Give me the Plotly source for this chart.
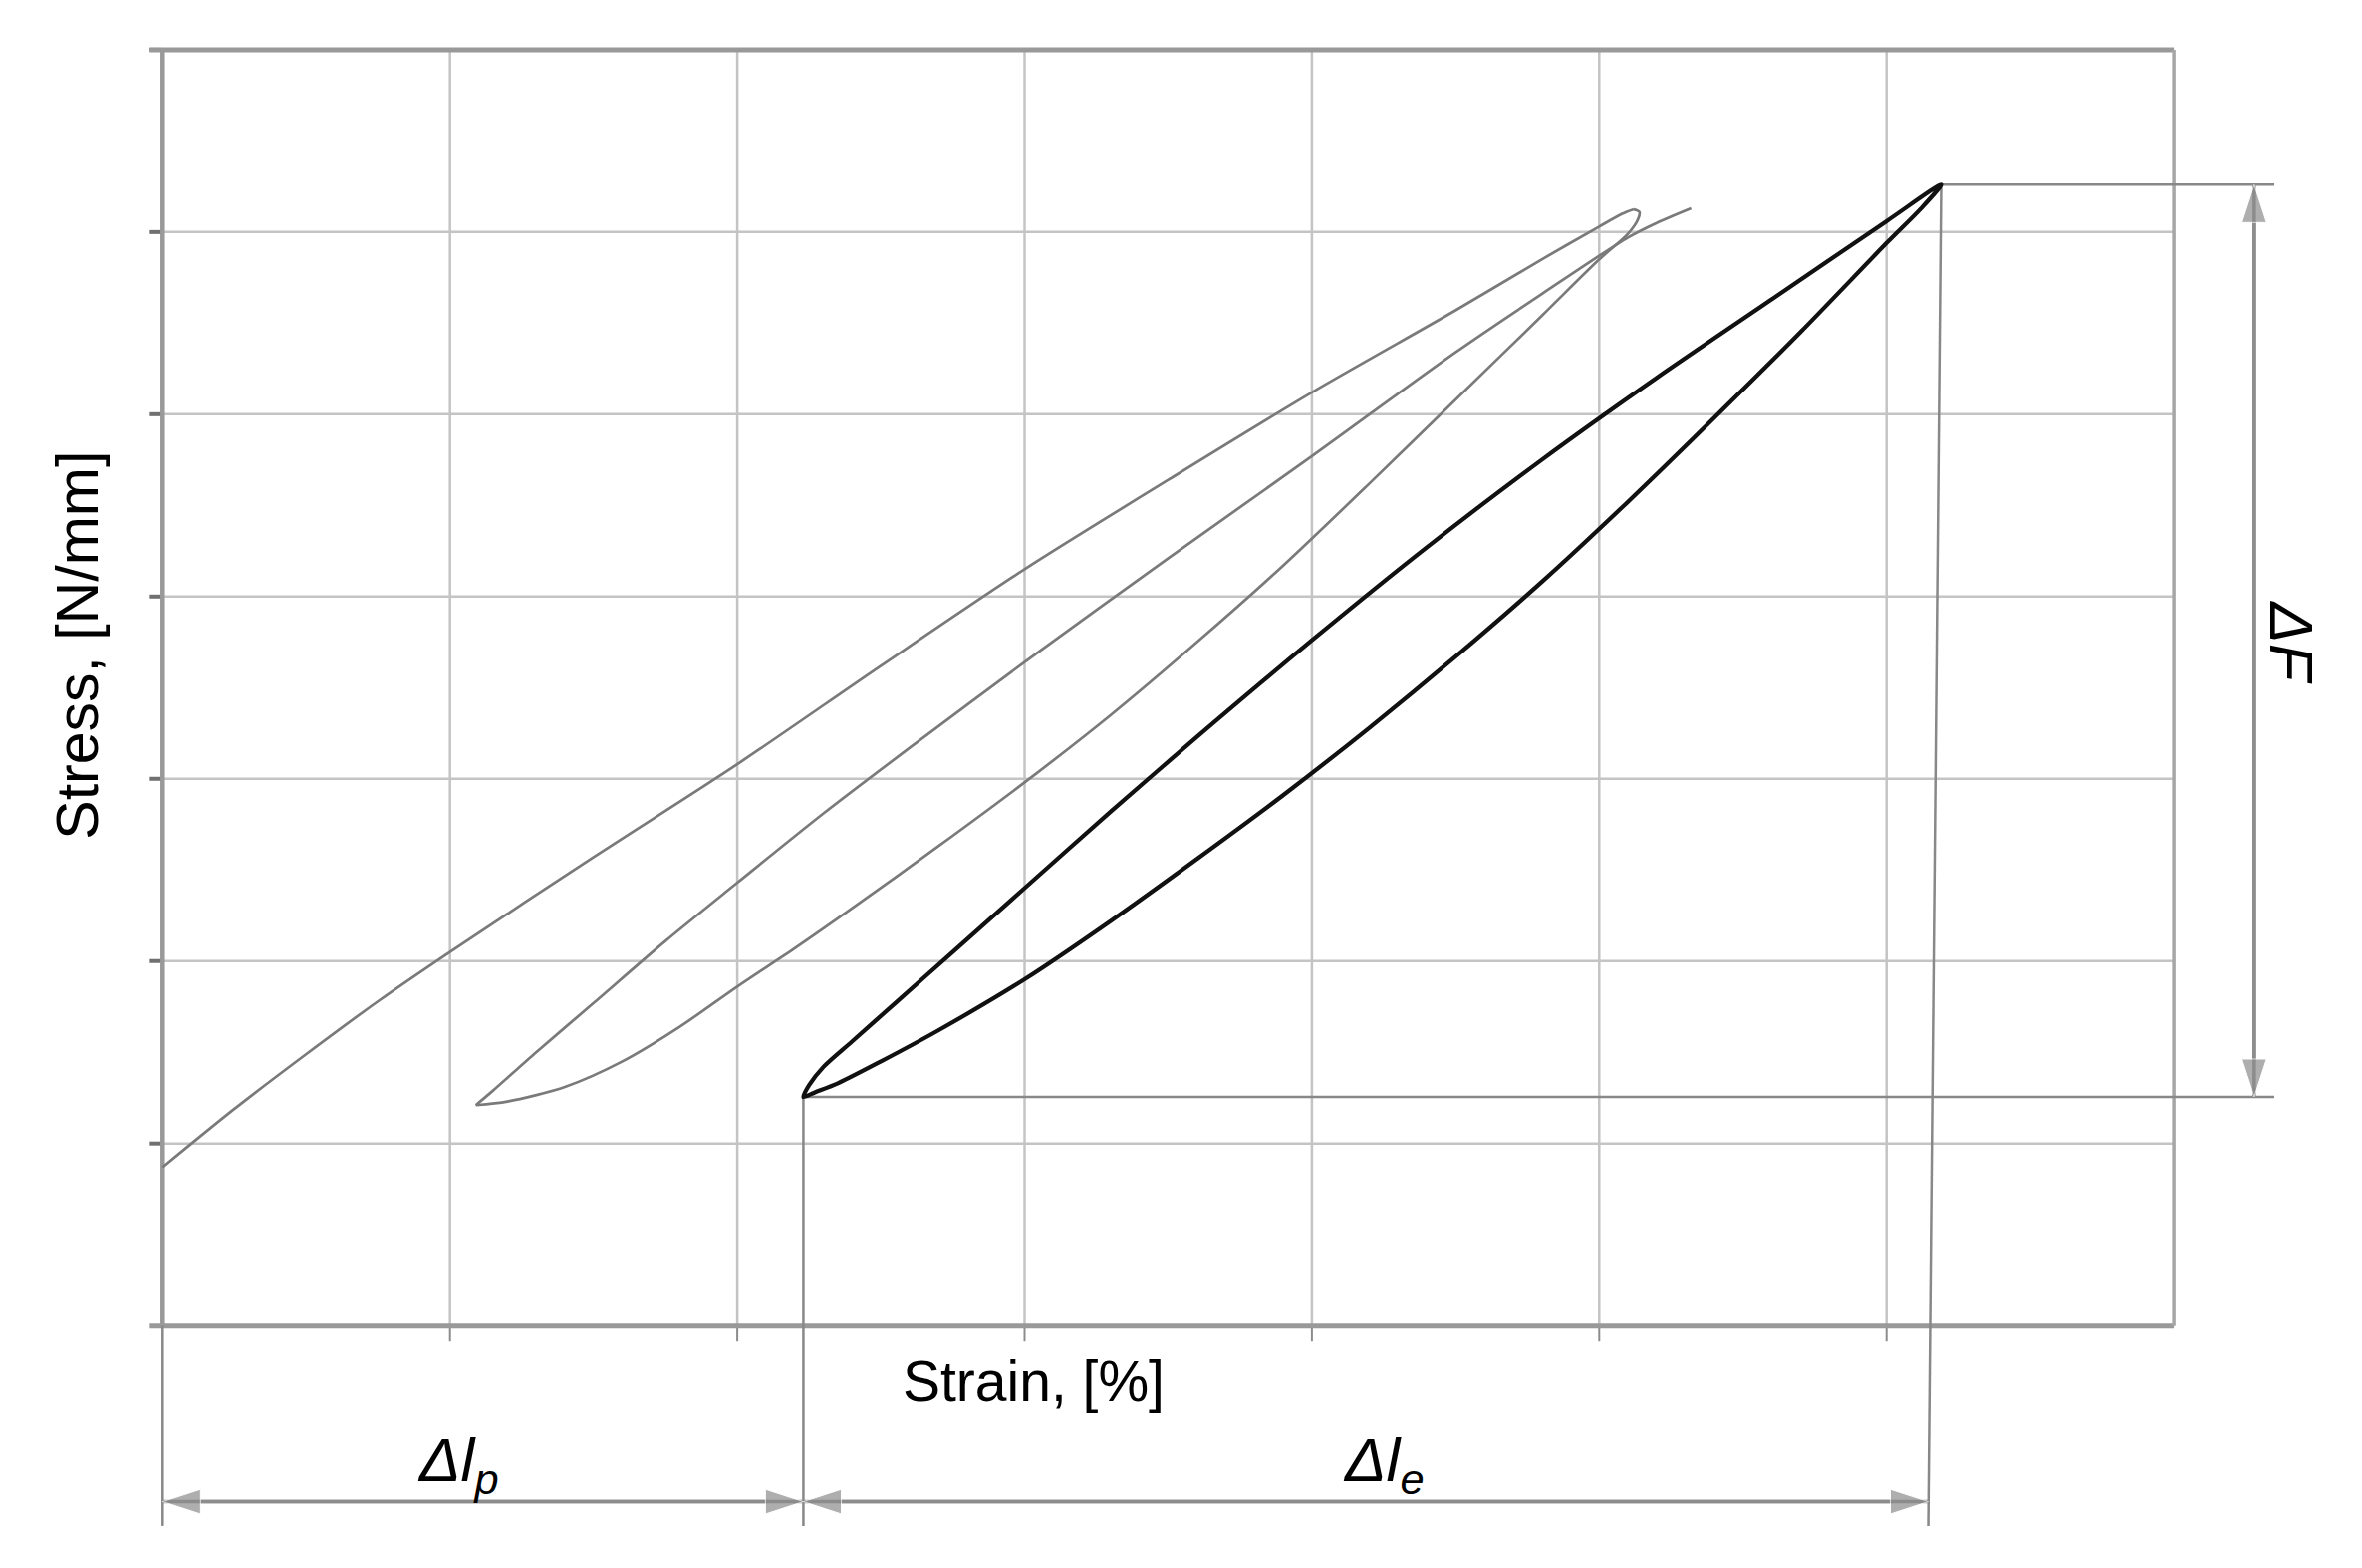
import plotly.graph_objects as go

# Cuadrícula del diagrama (en divisiones)
grid_x = [0, 1, 2, 3, 4, 5, 6, 7]
grid_y = [0, 1, 2, 3, 4, 5, 6, 7]

# Ciclo previo (gris): carga
carga_x = [0.00, 0.25, 0.50, 0.75, 1.00, 1.50, 2.00, 2.50, 3.00, 3.50, 4.00, 4.50, 4.80, 5.00,
           5.08, 5.12]
carga_y = [0.87, 1.19, 1.49, 1.78, 2.05, 2.57, 3.08, 3.62, 4.15, 4.64, 5.12, 5.57, 5.85, 6.03,
           6.10, 6.125]

# Ciclo previo (gris): descarga
descarga_x = [5.12, 5.14, 5.135, 5.10, 5.00, 4.80, 4.50, 4.20, 3.90, 3.60, 3.30, 3.00, 2.70,
              2.40, 2.20, 2.00, 1.80, 1.60, 1.40, 1.20, 1.09]
descarga_y = [6.125, 6.11, 6.07, 5.99, 5.85, 5.54, 5.08, 4.62, 4.17, 3.75, 3.35, 2.98, 2.63,
              2.29, 2.07, 1.86, 1.64, 1.45, 1.31, 1.23, 1.21]

# Ciclo previo (gris): recarga
recarga_x = [1.09, 1.15, 1.30, 1.50, 1.75, 2.00, 2.30, 2.60, 3.00, 3.50, 4.00, 4.50, 4.80, 5.10,
             5.20, 5.32]
recarga_y = [1.21, 1.29, 1.50, 1.77, 2.11, 2.43, 2.81, 3.17, 3.64, 4.21, 4.77, 5.34, 5.66, 5.97,
             6.05, 6.13]

# Ciclo estabilizado (negro): carga y descarga
negro_x = [2.23, 2.25, 2.30, 2.40, 2.55, 2.75, 3.00, 3.30, 3.60, 4.00, 4.40, 4.80, 5.20, 5.60,
           6.00, 6.19, 6.12, 6.00, 5.70, 5.40, 5.10, 4.80, 4.50, 4.20, 3.90, 3.60, 3.30, 3.00,
           2.70, 2.50, 2.35, 2.27, 2.23]
negro_y = [1.255, 1.32, 1.42, 1.56, 1.77, 2.05, 2.40, 2.82, 3.23, 3.76, 4.27, 4.75, 5.20, 5.63,
           6.06, 6.26, 6.13, 5.94, 5.45, 4.98, 4.52, 4.08, 3.67, 3.28, 2.91, 2.56, 2.22, 1.90,
           1.62, 1.45, 1.33, 1.28, 1.255]

fig = go.Figure()

x0, x1 = grid_x[0], grid_x[-1]
y0, y1 = grid_y[0], grid_y[-1]
gris_rej = '#c4c4c4'
gris_marco = '#999999'
gris_cota = '#888888'

# Rejilla interior y marcas
for gx in grid_x[1:-1]:
    fig.add_shape(type='line', x0=gx, x1=gx, y0=y0, y1=y1, layer='below',
                  line=dict(color=gris_rej, width=2.5))
    fig.add_shape(type='line', x0=gx, x1=gx, y0=y0 - 0.085, y1=y0, layer='below',
                  line=dict(color='#8c8c8c', width=2))
for gy in grid_y[1:-1]:
    fig.add_shape(type='line', x0=x0, x1=x1, y0=gy, y1=gy, layer='below',
                  line=dict(color=gris_rej, width=2.5))
for gy in grid_y[1:]:
    fig.add_shape(type='line', x0=x0 - 0.045, x1=x0, y0=gy, y1=gy, layer='below',
                  line=dict(color='#707070', width=4))

# Marco
fig.add_shape(type='line', x0=x0 - 0.045, x1=x1, y0=y1, y1=y1, layer='below',
              line=dict(color=gris_marco, width=5))
fig.add_shape(type='line', x0=x0 - 0.045, x1=x1, y0=y0, y1=y0, layer='below',
              line=dict(color=gris_marco, width=5))
fig.add_shape(type='line', x0=x0, x1=x0, y0=y0, y1=y1, layer='below',
              line=dict(color=gris_marco, width=4.5))
fig.add_shape(type='line', x0=x1, x1=x1, y0=y0, y1=y1, layer='below',
              line=dict(color='#a6a6a6', width=3.5))

# Curvas
for cx, cy in [(carga_x, carga_y), (descarga_x, descarga_y), (recarga_x, recarga_y)]:
    fig.add_trace(go.Scatter(x=cx, y=cy, mode='lines',
                             line=dict(color='#7a7a7a', width=2.7, shape='spline', smoothing=0.8),
                             hoverinfo='skip'))
fig.add_trace(go.Scatter(x=negro_x, y=negro_y, mode='lines',
                         line=dict(color='#111111', width=4.2, shape='spline', smoothing=0.8),
                         hoverinfo='skip'))

# Líneas de cota
x_min, x_max = min(negro_x), max(negro_x)
y_min, y_max = min(negro_y), max(negro_y)
y_cota = -1.10
x_derecha = 7.35
cotas = [
    (x_max, y_max, x_derecha, y_max),
    (x_min, y_min, x_derecha, y_min),
    (x_max, y_max, x_max - 0.045, y_cota),
    (x_min, y_min, x_min, y_cota),
    (x0, y0, x0, y_cota),
]
for a, b, c, d in cotas:
    fig.add_shape(type='line', x0=a, y0=b, x1=c, y1=d, layer='below',
                  line=dict(color=gris_cota, width=2.5))

# Flechas de doble punta (marcadores orientados según el tramo)
y_flecha = -0.967
flechas = [
    ((x0, x_min), (y_flecha, y_flecha)),
    ((x_min, x_max - 0.045), (y_flecha, y_flecha)),
    ((7.28, 7.28), (y_min, y_max)),
]
for (xa, xb), (ya, yb) in flechas:
    fig.add_trace(go.Scatter(
        x=[xa, xb, xa], y=[ya, yb, ya], mode='lines+markers',
        line=dict(color='#8c8c8c', width=3.5),
        marker=dict(symbol='arrow', angleref='previous', size=[0, 40, 40], color='#8c8c8c'),
        hoverinfo='skip'))

# Textos
fuente = dict(family='Liberation Sans, Arial, sans-serif', color='#000000')
fig.add_annotation(x=3.03, y=-0.30, text='Strain, [%]', showarrow=False,
                   font=dict(size=57, **fuente))
fig.add_annotation(x=-0.294, y=3.73, text='Stress, [N/mm]', showarrow=False, textangle=-90,
                   font=dict(size=59, **fuente))
fig.add_annotation(x=1.03, y=-0.76, text='<i>Δl<sub>p</sub></i>', showarrow=False,
                   font=dict(size=62, **fuente))
fig.add_annotation(x=4.25, y=-0.76, text='<i>Δl<sub>e</sub></i>', showarrow=False,
                   font=dict(size=62, **fuente))
fig.add_annotation(x=7.41, y=3.75, text='<i>ΔF</i>', showarrow=False, textangle=90,
                   font=dict(size=62, **fuente))

# La página deja 8 px de margen: el lienzo ocupa 2363x1566
fig.update_layout(
    width=2363,
    height=1566,
    margin=dict(l=0, r=0, t=0, b=0),
    paper_bgcolor='white',
    plot_bgcolor='white',
    showlegend=False,
    xaxis=dict(range=[-0.5385, 7.655], visible=False, fixedrange=True),
    yaxis=dict(range=[-1.330, 7.229], visible=False, fixedrange=True),
)

fig.write_html("out.html")
